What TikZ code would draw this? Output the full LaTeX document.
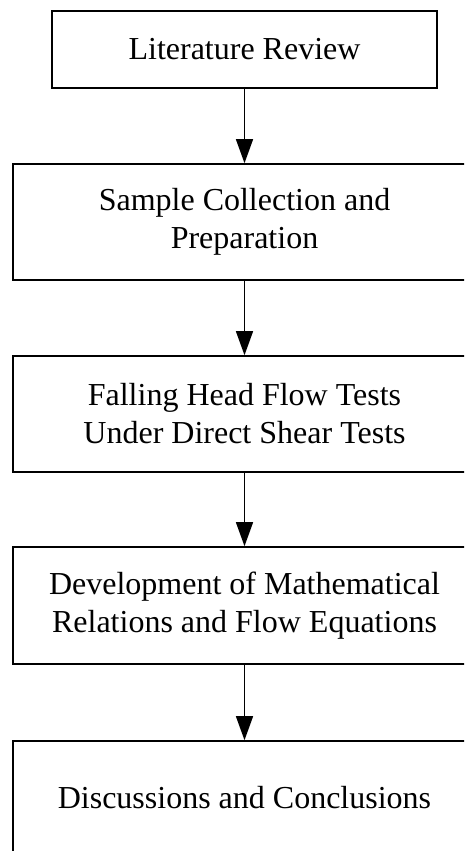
\documentclass[tikz,border=0pt]{standalone}
\usepackage{fontspec}
\setmainfont{Liberation Serif}
\usetikzlibrary{arrows.meta}
\tikzset{
    every node/.style={rectangle, draw, line width=1.6pt, inner sep=0pt,
    	align=center, font=\fontsize{32}{38}\selectfont}
}
\tikzset{
    every edge/.append style={line width=1.4pt, -{Triangle[width=17pt,length=24pt]}}
}

\begin{document}
\begin{tikzpicture}[x=1pt, y=-1pt]
  \path[use as bounding box, clip] (0,0) rectangle (464,851);

  \node (lit) [minimum width=385pt, minimum height=77pt] at (244.5,49.5) {Literature Review};
  \node (sample) [minimum width=463pt, minimum height=116pt] at (244.5,222) {Sample Collection and\\Preparation};
  \node (flow) [minimum width=463pt, minimum height=116pt] at (244.5,414) {Falling Head Flow Tests\\Under Direct Shear Tests};
  \node (math) [minimum width=463pt, minimum height=117pt] at (244.5,605.5) {Development of Mathematical\\Relations and Flow Equations};
  \node (concl) [minimum width=463pt, minimum height=114pt] at (244.5,798) {Discussions and Conclusions};

  \draw (lit) edge (sample);
  \draw (sample) edge (flow);
  \draw (flow) edge (math);
  \draw (math) edge (concl);
\end{tikzpicture}
\end{document}
